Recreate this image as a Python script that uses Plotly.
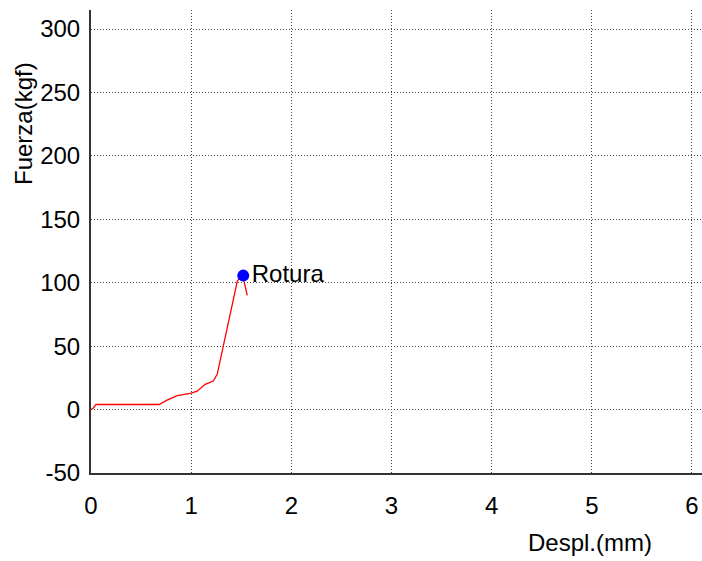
import plotly.graph_objects as go

# Force-displacement curve of the test
despl_mm = [0.0, 0.02, 0.05, 0.68, 0.76, 0.86, 0.99, 1.06, 1.14, 1.22, 1.26,
            1.32, 1.39, 1.46, 1.49, 1.52, 1.56]
fuerza_kgf = [0.0, 1.0, 4.0, 4.0, 7.5, 11.0, 12.8, 14.5, 19.9, 22.5, 27.8,
              50.0, 73.8, 101.0, 105.0, 104.0, 90.0]

# Break point
rotura_x = [1.52]
rotura_y = [105.6]
rotura_label = "Rotura"

x_ticks = [0, 1, 2, 3, 4, 5, 6]
y_ticks = [-50, 0, 50, 100, 150, 200, 250, 300]
y_tick_text = ["-50", "0", "50", "100", "150", "200", "250", "300"]

font_family = "Liberation Sans, Arial, sans-serif"
font_size = 24

fig = go.Figure()
fig.add_trace(go.Scatter(
    x=despl_mm, y=fuerza_kgf, mode="lines",
    line=dict(color="#ff0000", width=1.3),
    showlegend=False, hoverinfo="skip",
))
fig.add_trace(go.Scatter(
    x=rotura_x, y=rotura_y, mode="markers+text",
    marker=dict(color="#0000ff", size=12),
    text=[rotura_label], textposition="middle right",
    textfont=dict(family=font_family, size=font_size, color="#000000"),
    showlegend=False, hoverinfo="skip",
))

axis_common = dict(
    showgrid=True, gridcolor="#444444", griddash="1px,2px", gridwidth=1,
    zeroline=False, showline=True, linecolor="#333333", linewidth=2,
    ticks="", tickfont=dict(family=font_family, size=font_size, color="#000000"),
)

fig.update_xaxes(range=[0, 6.1], tickvals=x_ticks, ticklabelstandoff=10,
                 **axis_common)
fig.update_yaxes(range=[-50, 315], tickvals=y_ticks, ticktext=y_tick_text,
                 ticklabelstandoff=4, **axis_common)

fig.add_annotation(text="Despl.(mm)", xref="paper", yref="paper",
                   x=(590 - 91) / 611, y=-(542 - 473) / 463,
                   xanchor="center", yanchor="middle", showarrow=False,
                   font=dict(family=font_family, size=font_size, color="#000000"))
fig.add_annotation(text="Fuerza(kgf)", xref="paper", yref="paper",
                   x=-(91 - 23) / 611, y=(473 - 124) / 463, textangle=-90,
                   xanchor="center", yanchor="middle", showarrow=False,
                   font=dict(family=font_family, size=font_size, color="#000000"))

fig.update_layout(
    width=702, height=561,
    margin=dict(l=91, r=0, t=10, b=88),
    plot_bgcolor="#ffffff", paper_bgcolor="#ffffff",
)

fig.write_html("out.html")
